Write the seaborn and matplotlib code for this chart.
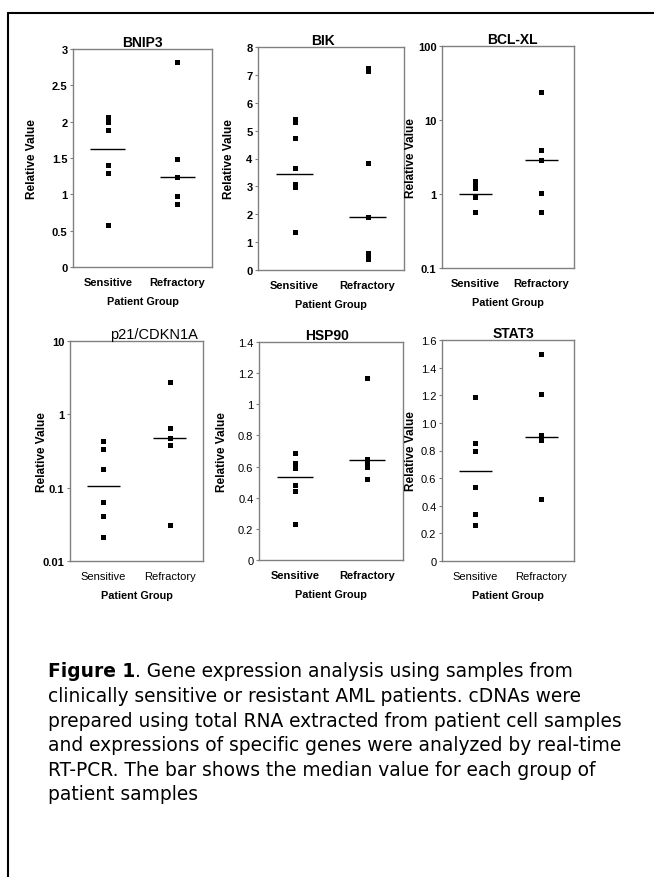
import pandas as pd
import matplotlib
matplotlib.use('Agg')
import matplotlib.pyplot as plt
import seaborn as sns
from matplotlib.ticker import FixedLocator, FixedFormatter, NullLocator

sns.set_style("white")
plt.rcParams['font.family'] = ['Liberation Sans', 'DejaVu Sans']
plt.rcParams['text.color'] = 'black'
plt.rcParams['axes.labelcolor'] = 'black'
plt.rcParams['xtick.color'] = 'black'
plt.rcParams['ytick.color'] = 'black'

grupos = ['Sensitive', 'Refractory']
genes = ['BNIP3', 'BIK', 'BCL-XL', 'p21/CDKN1A', 'HSP90', 'STAT3']

# valores
bnip3_sens = [2.07, 1.99, 1.89, 1.41, 1.29, 0.58]
bnip3_refr = [2.82, 1.49, 1.24, 0.98, 0.87]
bik_sens = [5.42, 5.32, 4.75, 3.65, 3.08, 2.99, 1.37]
bik_refr = [7.25, 7.15, 3.85, 1.9, 0.62, 0.45, 0.38]
bclxl_sens = [1.52, 1.36, 1.22, 0.92, 0.58]
bclxl_refr = [23.8, 3.94, 2.88, 1.02, 0.58]
p21_sens = [0.43, 0.34, 0.18, 0.064, 0.041, 0.021]
p21_refr = [2.76, 0.65, 0.475, 0.378, 0.031]
hsp90_sens = [0.69, 0.62, 0.59, 0.48, 0.44, 0.23]
hsp90_refr = [1.17, 0.65, 0.63, 0.6, 0.52]
stat3_sens = [1.19, 0.855, 0.795, 0.535, 0.337, 0.263]
stat3_refr = [1.50, 1.21, 0.913, 0.877, 0.45]

# medianas (barra horizontal)
medianas_sens = [1.62, 3.43, 1.0, 0.107, 0.53, 0.655]
medianas_refr = [1.24, 1.9, 2.88, 0.475, 0.64, 0.90]

ticks_y = [
    [0, 0.5, 1, 1.5, 2, 2.5, 3],
    [0, 1, 2, 3, 4, 5, 6, 7, 8],
    [0.1, 1, 10, 100],
    [0.01, 0.1, 1, 10],
    [0, 0.2, 0.4, 0.6, 0.8, 1, 1.2, 1.4],
    [0, 0.2, 0.4, 0.6, 0.8, 1.0, 1.2, 1.4, 1.6],
]
etiquetas_y = [
    ['0', '0.5', '1', '1.5', '2', '2.5', '3'],
    ['0', '1', '2', '3', '4', '5', '6', '7', '8'],
    ['0.1', '1', '10', '100'],
    ['0.01', '0.1', '1', '10'],
    ['0', '0.2', '0.4', '0.6', '0.8', '1', '1.2', '1.4'],
    ['0', '0.2', '0.4', '0.6', '0.8', '1.0', '1.2', '1.4', '1.6'],
]

leyenda = [
    ('Figure 1', '. Gene expression analysis using samples from'),
    ('', 'clinically sensitive or resistant AML patients. cDNAs were'),
    ('', 'prepared using total RNA extracted from patient cell samples'),
    ('', 'and expressions of specific genes were analyzed by real-time'),
    ('', 'RT-PCR. The bar shows the median value for each group of'),
    ('', 'patient samples'),
]

datos_sens = [bnip3_sens, bik_sens, bclxl_sens, p21_sens, hsp90_sens, stat3_sens]
datos_refr = [bnip3_refr, bik_refr, bclxl_refr, p21_refr, hsp90_refr, stat3_refr]

W, H = 654, 878
# caja de cada panel en pixeles: izquierda, arriba, derecha, abajo
cajas = [(73, 50, 212, 268), (258, 48, 404, 271), (442, 47, 574, 269),
         (70, 342, 203, 562), (259, 343, 403, 561), (442, 341, 574, 562)]
escala_log = [False, False, True, True, False, False]
titulo_negrita = [True, True, True, False, True, True]
titulo_size = [10, 10, 10, 10.5, 10, 10]
titulo_dx = [0, -8, 4, 17, -4, 5]
ytick_negrita = [True, True, True, True, False, False]
xtick_negrita = [True, True, True, False, True, False]
ylabel_dx = [35, 23, 25, 22, 31, 25]


def plottear_panel(fig, i):
    l, t, r, b = cajas[i]
    ax = fig.add_axes([l / W, 1 - b / H, (r - l) / W, (b - t) / H])
    df = pd.DataFrame({
        'Grupo': [grupos[0]] * len(datos_sens[i]) + [grupos[1]] * len(datos_refr[i]),
        'Valor': datos_sens[i] + datos_refr[i],
    })
    if escala_log[i]:
        ax.set_yscale('log')
    sns.stripplot(data=df, x='Grupo', y='Valor', order=grupos, jitter=False,
                  marker='s', color='black', size=3.6, linewidth=0, ax=ax)
    for j, med in enumerate([medianas_sens[i], medianas_refr[i]]):
        ax.hlines(med, j - 0.25, j + 0.25, color='black', linewidth=1)
    ax.set_xlim(-0.5, 1.5)
    ax.set_ylim(ticks_y[i][0], ticks_y[i][-1])
    ax.yaxis.set_major_locator(FixedLocator(ticks_y[i]))
    ax.yaxis.set_major_formatter(FixedFormatter(etiquetas_y[i]))
    ax.yaxis.set_minor_locator(NullLocator())
    for s in ax.spines.values():
        s.set_color('#808080')
        s.set_linewidth(1)
    ax.tick_params(axis='y', left=True, length=2, width=0.8, color='#808080', pad=2,
                   labelsize=8, labelcolor='black')
    ax.tick_params(axis='x', bottom=False, length=0, pad=7, labelsize=8,
                   labelcolor='black')
    for lab in ax.get_yticklabels():
        lab.set_fontweight('bold' if ytick_negrita[i] else 'normal')
    for lab in ax.get_xticklabels():
        lab.set_fontweight('bold' if xtick_negrita[i] else 'normal')
    ax.set_xlabel('Patient Group', fontsize=7.8, fontweight='bold', labelpad=7)
    ax.set_ylabel('Relative Value', fontsize=8.5, fontweight='bold')
    ax.yaxis.set_label_coords(-ylabel_dx[i] / (r - l), 0.5)
    ax.text(0.5 + titulo_dx[i] / (r - l), 1.0, genes[i], transform=ax.transAxes,
            ha='center', va='bottom', fontsize=titulo_size[i],
            fontweight='bold' if titulo_negrita[i] else 'normal')
    return ax


fig = plt.figure(figsize=(W / 100, H / 100), dpi=100)
fig.patch.set_facecolor('white')

# marco recortado (solo arriba e izquierda)
fig.add_artist(plt.Line2D([8 / W, 1], [1 - 14 / H, 1 - 14 / H], color='black', linewidth=1.5))
fig.add_artist(plt.Line2D([8 / W, 8 / W], [0, 1 - 14 / H], color='black', linewidth=1.5))

for i in range(len(genes)):
    plottear_panel(fig, i)

renderer = fig.canvas.get_renderer()
tam_leyenda = 13.4
for k, (negrita, normal) in enumerate(leyenda):
    y = 1 - (672 + k * 24.6) / H
    x = 48 / W
    if negrita:
        tb = fig.text(x, y, negrita, fontsize=tam_leyenda, fontweight='bold',
                      family='DejaVu Sans', va='center', ha='left', color='black')
        bb = tb.get_window_extent(renderer)
        x = bb.x1 / fig.bbox.width
    fig.text(x, y, normal, fontsize=tam_leyenda, family='DejaVu Sans',
             va='center', ha='left', color='black')

fig.savefig('out.png', dpi=100)
